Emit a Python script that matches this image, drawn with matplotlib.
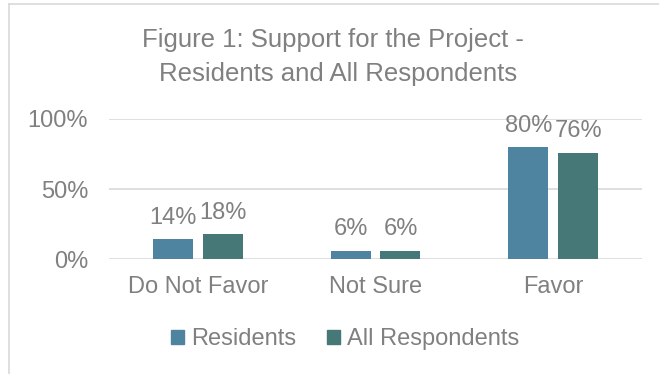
""" Support for the project - grouped bar chart """

import matplotlib.pyplot as plt
import numpy as np
from matplotlib.lines import Line2D
from matplotlib.patches import Patch

# Data
categories = ["Do Not Favor", "Not Sure", "Favor"]
residents = [0.14, 0.06, 0.80]
all_respondents = [0.18, 0.06, 0.76]
series_names = ["Residents", "All Respondents"]
y_ticks = [0.0, 0.5, 1.0]
y_tick_labels = ["0%", "50%", "100%"]

# Style
plt.rcParams["font.family"] = ["Liberation Sans", "DejaVu Sans"]
TEXT = "#808080"
GRID = "#D9D9D9"
C_RES = "#4E84A0"
C_ALL = "#467878"

fig = plt.figure(figsize=(6.59, 3.74), dpi=100)
ax = fig.add_axes([109 / 659, 1 - 259 / 374, 533 / 659, 140 / 374])

x = np.arange(len(categories))
width = 0.225
offset = 0.1405

bars_res = ax.bar(x - offset, residents, width, color=C_RES, zorder=3)
bars_all = ax.bar(x + offset, all_respondents, width, color=C_ALL, zorder=3)

# Value labels above bars
for bars in (bars_res, bars_all):
    for b in bars:
        val = b.get_height()
        ax.annotate(f"{val:.0%}", (b.get_x() + b.get_width() / 2, val),
                    xytext=(0, 11), textcoords="offset points",
                    ha="center", va="baseline", fontsize=17, color=TEXT)

ax.set_xlim(-0.5, 2.5)
ax.set_ylim(0, 1)
ax.set_yticks(y_ticks)
ax.set_yticklabels(y_tick_labels)
ax.set_xticks(x)
ax.set_xticklabels(categories)
ax.tick_params(axis="y", length=0, pad=15, labelsize=17, labelcolor=TEXT)
ax.tick_params(axis="x", length=0, pad=12, labelsize=17, labelcolor=TEXT)
ax.grid(axis="y", color=GRID, linewidth=1.2, zorder=0)
for s in ax.spines.values():
    s.set_visible(False)

# Title
fig.text(333 / 659, 1 - 47 / 374, "Figure 1: Support for the Project -",
         ha="center", va="baseline", fontsize=18.5, color=TEXT)
fig.text(338 / 659, 1 - 81 / 374, "Residents and All Respondents",
         ha="center", va="baseline", fontsize=18.5, color=TEXT)

# Legend
handles = [Patch(color=C_RES), Patch(color=C_ALL)]
fig.legend(handles, series_names, loc="center", bbox_to_anchor=(345 / 659, 1 - 339 / 374),
           ncol=2, frameon=False, fontsize=17, labelcolor=TEXT,
           handlelength=0.55, handleheight=0.55, handletextpad=0.3,
           columnspacing=1.3, borderaxespad=0)

# Chart border (top and left edges)
fig.add_artist(Line2D([9 / 659, 9 / 659], [0, 1 - 4 / 374], transform=fig.transFigure,
                      color=GRID, linewidth=1.2))
fig.add_artist(Line2D([9 / 659, 1], [1 - 4 / 374, 1 - 4 / 374], transform=fig.transFigure,
                      color=GRID, linewidth=1.2))

plt.savefig("out.png", dpi=100)
